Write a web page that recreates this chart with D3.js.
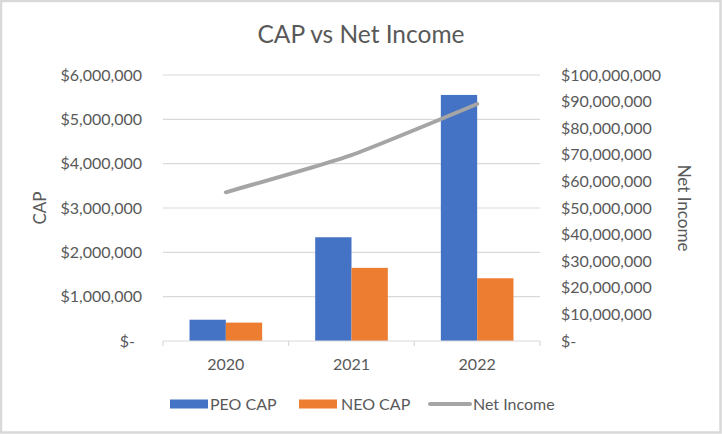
<!DOCTYPE html>
<html>
<head>
<meta charset="utf-8">
<script src="https://cdn.jsdelivr.net/npm/d3@7"></script>
<style>
  body { margin: 0; background: #fff; }
  text { font-family: Lato, "Open Sans", sans-serif; fill: #595959; }
</style>
</head>
<body>
<div id="chart"></div>
<script>
// data
const years = ["2020", "2021", "2022"];
const peoCap = [480000, 2340000, 5550000];
const neoCap = [415000, 1650000, 1415000];
const netIncome = [55900000, 69900000, 89100000];
const capTicks = [0, 1000000, 2000000, 3000000, 4000000, 5000000, 6000000];
const incomeTicks = [0, 10000000, 20000000, 30000000, 40000000, 50000000, 60000000, 70000000, 80000000, 90000000, 100000000];

const W = 722, H = 434;
const margin = {top: 75, right: 182, bottom: 93, left: 163};
const width = W - margin.left - margin.right,
      height = H - margin.top - margin.bottom;

const svg = d3.select("#chart")
  .append("svg")
  .attr("width", W)
  .attr("height", H);

// chart border
svg.append("rect")
  .attr("x", 1).attr("y", 1)
  .attr("width", W - 2.5).attr("height", H - 2.5)
  .attr("fill", "#fff")
  .attr("stroke", "#d9d9d9")
  .attr("stroke-width", 2.5);

svg.append("text")
  .attr("x", 361)
  .attr("y", 43)
  .attr("text-anchor", "middle")
  .style("font-size", "24.5px")
  .text("CAP vs Net Income");

const g = svg.append("g")
  .attr("transform", `translate(${margin.left},${margin.top})`);

const x = d3.scaleBand()
  .domain(years)
  .range([0, width]);

const x1 = d3.scaleBand()
  .domain(["PEO CAP", "NEO CAP"])
  .range([0, x.bandwidth()])
  .paddingOuter(0.73);

const yLeft = d3.scaleLinear()
  .domain([0, 6000000])
  .range([height, 0]);

const yRight = d3.scaleLinear()
  .domain([0, 100000000])
  .range([height, 0]);

const money = d3.format("$,");
const fmt = v => v === 0 ? "$-" : money(v);

// gridlines
g.append("g")
  .selectAll("line")
  .data(capTicks.filter(d => d > 0))
  .enter()
  .append("line")
    .attr("x1", 0).attr("x2", width)
    .attr("y1", d => yLeft(d)).attr("y2", d => yLeft(d))
    .attr("stroke", "#d9d9d9")
    .attr("stroke-width", 1.2);

// left axis labels
g.append("g")
  .selectAll("text")
  .data(capTicks)
  .enter()
  .append("text")
    .attr("x", d => d === 0 ? -28 : -21)
    .attr("y", d => yLeft(d))
    .attr("dy", "0.35em")
    .attr("text-anchor", "end")
    .style("font-size", "16px")
    .text(fmt);

// right axis labels
g.append("g")
  .selectAll("text")
  .data(incomeTicks)
  .enter()
  .append("text")
    .attr("x", width + 21)
    .attr("y", d => yRight(d))
    .attr("dy", "0.35em")
    .attr("text-anchor", "start")
    .style("font-size", "16px")
    .text(fmt);

// bars
const series = [
  {name: "PEO CAP", values: peoCap, color: "#4472c4"},
  {name: "NEO CAP", values: neoCap, color: "#ed7d31"}
];

series.forEach(function (s) {
  g.append("g")
    .selectAll("rect")
    .data(years)
    .enter()
    .append("rect")
      .attr("x", d => x(d) + x1(s.name))
      .attr("width", x1.bandwidth())
      .attr("y", (d, i) => yLeft(s.values[i]))
      .attr("height", (d, i) => height - yLeft(s.values[i]))
      .attr("fill", s.color);
});

// x axis line and ticks
g.append("line")
  .attr("x1", 0).attr("x2", width)
  .attr("y1", height).attr("y2", height)
  .attr("stroke", "#d9d9d9")
  .attr("stroke-width", 1.2);

g.append("g")
  .selectAll("line")
  .data(d3.range(years.length + 1))
  .enter()
  .append("line")
    .attr("x1", i => i * x.step()).attr("x2", i => i * x.step())
    .attr("y1", height).attr("y2", height + 5)
    .attr("stroke", "#d9d9d9")
    .attr("stroke-width", 1.2);

g.append("g")
  .selectAll("text")
  .data(years)
  .enter()
  .append("text")
    .attr("x", d => x(d) + x.bandwidth() / 2)
    .attr("y", height + 29)
    .attr("text-anchor", "middle")
    .style("font-size", "16px")
    .text(d => d);

// net income line (excel style smoothing)
g.append("path")
  .datum(netIncome)
  .attr("d", d3.line()
    .x((d, i) => x(years[i]) + x.bandwidth() / 2)
    .y(d => yRight(d))
    .curve(d3.curveCardinal.tension(0.5)))
  .attr("fill", "none")
  .attr("stroke", "#a5a5a5")
  .attr("stroke-width", 4)
  .attr("stroke-linecap", "round");

// axis titles
svg.append("text")
  .attr("transform", `translate(46,${margin.top + height / 2}) rotate(-90)`)
  .attr("text-anchor", "middle")
  .style("font-size", "17px")
  .text("CAP");

svg.append("text")
  .attr("transform", `translate(678,${margin.top + height / 2}) rotate(90)`)
  .attr("text-anchor", "middle")
  .style("font-size", "17px")
  .text("Net Income");

// legend
const legend = svg.append("g").attr("transform", "translate(0,404)");

legend.append("rect").attr("x", 170).attr("y", -4.5).attr("width", 38).attr("height", 9).attr("fill", "#4472c4");
legend.append("text").attr("x", 210).attr("y", 0).attr("dy", "0.35em").style("font-size", "16px").text("PEO CAP");

legend.append("rect").attr("x", 299).attr("y", -4.5).attr("width", 38).attr("height", 9).attr("fill", "#ed7d31");
legend.append("text").attr("x", 341).attr("y", 0).attr("dy", "0.35em").style("font-size", "16px").text("NEO CAP");

legend.append("line").attr("x1", 430).attr("x2", 470).attr("y1", 0).attr("y2", 0)
  .attr("stroke", "#a5a5a5").attr("stroke-width", 4).attr("stroke-linecap", "round");
legend.append("text").attr("x", 473).attr("y", 0).attr("dy", "0.35em").style("font-size", "16px").text("Net Income");
</script>
</body>
</html>
